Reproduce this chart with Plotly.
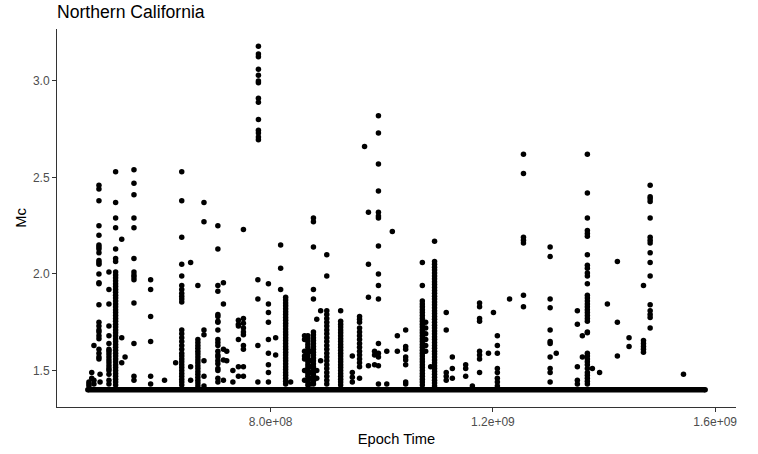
import plotly.graph_objects as go

# ---- data ----
# Event times are epoch seconds; each column lists the Mc values stacked at that time.
column_times = [
    4.73e8, 4.78e8, 4.82e8, 4.91e8, 4.93e8, 5.09e8, 5.21e8, 5.32e8, 5.38e8, 5.54e8,
    5.84e8, 6.09e8, 6.29e8, 6.40e8, 6.56e8, 6.69e8, 6.80e8, 7.05e8, 7.15e8, 7.21e8,
    7.32e8, 7.42e8, 7.51e8, 7.77e8, 7.78e8, 7.96e8, 8.09e8, 8.18e8, 8.27e8, 8.36e8,
    8.61e8, 8.67e8, 8.72e8, 8.77e8, 8.83e8, 8.90e8, 9.01e8, 9.26e8, 9.47e8, 9.60e8,
    9.69e8, 9.76e8, 9.87e8, 9.94e8, 10.09e8, 10.19e8, 10.28e8, 10.43e8, 10.73e8, 10.79e8,
    10.88e8, 10.95e8, 11.16e8, 11.27e8, 11.51e8, 11.63e8, 11.76e8, 11.92e8, 12.01e8, 12.08e8,
    12.30e8, 12.55e8, 13.03e8, 13.14e8, 13.52e8, 13.61e8, 13.70e8, 13.79e8, 13.92e8, 14.06e8,
    14.24e8, 14.45e8, 14.71e8, 14.83e8, 15.43e8,
]

column_mc = [
    [1.44, 1.43, 1.42],
    [1.49, 1.46],
    [1.63, 1.45, 1.43],
    [2.46, 2.44, 2.38, 2.25, 2.20, 2.15, 2.14, 2.13, 2.11, 2.07, 2.06, 2.05, 2.00, 1.955, 1.95,
     1.84, 1.75, 1.73, 1.71, 1.70, 1.68, 1.665, 1.61, 1.59, 1.57, 1.56],
    [1.48, 1.44],
    [2.01, 1.92, 1.845, 1.73, 1.68, 1.64, 1.61, 1.60, 1.585, 1.57, 1.555, 1.54, 1.525, 1.51,
     1.50, 1.48, 1.45, 1.43],
    [2.53, 2.37, 2.29, 2.24, 2.13, 2.08, 2.065, 2.01, 1.995, 1.98, 1.965, 1.95, 1.935, 1.92,
     1.905, 1.89, 1.875, 1.86, 1.845, 1.83, 1.815, 1.80, 1.785, 1.77, 1.755, 1.74, 1.725, 1.71,
     1.695, 1.68, 1.665, 1.65, 1.635, 1.62, 1.605, 1.59, 1.575, 1.56, 1.545, 1.53, 1.515, 1.50,
     1.485, 1.47, 1.455, 1.44, 1.425],
    [2.18, 1.67, 1.54],
    [1.57],
    [2.54, 2.47, 2.41, 2.29, 2.24, 2.08, 2.01, 1.995, 1.985, 1.97, 1.85, 1.64, 1.47, 1.45],
    [1.97, 1.92, 1.78, 1.65, 1.47, 1.43],
    [1.45],
    [1.54],
    [2.53, 2.38, 2.19, 2.05, 1.99, 1.94, 1.92, 1.90, 1.885, 1.87, 1.855, 1.71, 1.69, 1.67, 1.65,
     1.63, 1.61, 1.59, 1.575, 1.56, 1.545, 1.53, 1.515, 1.50, 1.485, 1.47, 1.455, 1.44, 1.425],
    [2.06, 1.52, 1.45],
    [1.94, 1.66, 1.645, 1.63, 1.615, 1.60, 1.585, 1.57, 1.555, 1.54, 1.525, 1.51, 1.495, 1.48,
     1.465, 1.45, 1.435, 1.42],
    [2.37, 2.27, 1.71, 1.685, 1.55, 1.47, 1.42],
    [2.25, 2.13, 1.94, 1.91, 1.79, 1.78, 1.755, 1.75, 1.71, 1.66, 1.645, 1.63, 1.60, 1.58, 1.57,
     1.55, 1.535, 1.51, 1.50, 1.46, 1.44],
    [1.955, 1.845, 1.61, 1.555, 1.45],
    [1.60, 1.55],
    [1.50, 1.44],
    [1.76, 1.74, 1.73, 1.66, 1.52, 1.47],
    [2.23, 1.77, 1.745, 1.72, 1.70, 1.685, 1.63, 1.61, 1.52, 1.47],
    [1.97, 1.87, 1.63, 1.44],
    [3.18, 3.14, 3.125, 3.06, 3.03, 3.00, 2.99, 2.91, 2.89, 2.80, 2.745, 2.73, 2.71, 2.695],
    [1.95, 1.845, 1.80, 1.75, 1.66, 1.59, 1.53, 1.49, 1.44],
    [1.67, 1.58],
    [2.15, 2.03, 1.92],
    [1.88, 1.865, 1.85, 1.835, 1.82, 1.805, 1.79, 1.775, 1.76, 1.745, 1.73, 1.715, 1.70, 1.685,
     1.67, 1.655, 1.64, 1.625, 1.61, 1.595, 1.58, 1.565, 1.55, 1.535, 1.52, 1.505, 1.49, 1.475,
     1.46, 1.445, 1.43],
    [1.44],
    [1.68, 1.66, 1.60, 1.575, 1.56, 1.50, 1.45],
    [1.68, 1.665, 1.65, 1.635, 1.62, 1.605, 1.59, 1.575, 1.56, 1.545, 1.53, 1.515, 1.50, 1.485,
     1.47, 1.455, 1.44, 1.425],
    [1.60, 1.55, 1.52, 1.49, 1.46, 1.43],
    [2.29, 2.27, 2.14, 1.92, 1.87, 1.70, 1.685, 1.67, 1.655, 1.64, 1.625, 1.61, 1.595, 1.58,
     1.565, 1.55, 1.535, 1.52, 1.505, 1.49, 1.475, 1.46, 1.445, 1.43],
    [1.765, 1.50, 1.46],
    [1.81, 1.55],
    [2.10, 1.99, 1.81, 1.79, 1.77, 1.75, 1.73, 1.71, 1.69, 1.67, 1.65, 1.63, 1.61, 1.59, 1.57,
     1.55, 1.53, 1.51, 1.49, 1.47, 1.45, 1.43],
    [1.81, 1.755, 1.74, 1.725, 1.71, 1.695, 1.68, 1.665, 1.65, 1.635, 1.62, 1.605, 1.59, 1.575,
     1.56, 1.545, 1.53, 1.515, 1.50, 1.485, 1.47, 1.455, 1.44, 1.425],
    [1.575, 1.49, 1.465, 1.44],
    [1.78, 1.765, 1.75, 1.72, 1.70, 1.68, 1.66, 1.64, 1.62, 1.60, 1.58, 1.56, 1.54, 1.52, 1.46],
    [2.66],
    [2.32, 2.05, 1.88, 1.525],
    [1.60, 1.58, 1.53],
    [2.82, 2.73, 2.57, 2.43, 2.32, 2.30, 2.29, 2.145, 2.00, 1.94, 1.87, 1.64, 1.59, 1.57, 1.525,
     1.43],
    [1.60, 1.43],
    [2.22],
    [1.68, 1.60],
    [1.71, 1.625, 1.61, 1.57, 1.555, 1.53, 1.44, 1.43],
    [2.06, 1.94, 1.86, 1.845, 1.83, 1.815, 1.80, 1.785, 1.77, 1.755, 1.74, 1.725, 1.71, 1.695,
     1.68, 1.665, 1.65, 1.635, 1.62, 1.605, 1.59, 1.575, 1.56, 1.545, 1.53, 1.515, 1.50, 1.485,
     1.47, 1.455, 1.44, 1.425],
    [1.75, 1.72, 1.69, 1.66, 1.63, 1.60],
    [1.52],
    [2.17, 2.065, 2.05, 2.035, 2.02, 2.005, 1.99, 1.975, 1.96, 1.945, 1.93, 1.915, 1.90, 1.885,
     1.87, 1.855, 1.84, 1.825, 1.81, 1.795, 1.78, 1.765, 1.75, 1.735, 1.72, 1.705, 1.69, 1.675,
     1.66, 1.645, 1.63, 1.615, 1.60, 1.585, 1.57, 1.555, 1.54, 1.525, 1.51, 1.495, 1.48, 1.465,
     1.45, 1.435, 1.42],
    [1.80, 1.71, 1.49, 1.47, 1.45],
    [1.57, 1.51, 1.46],
    [1.53, 1.51, 1.47],
    [1.42],
    [1.85, 1.83, 1.77, 1.755, 1.60, 1.58, 1.56, 1.49],
    [1.59],
    [1.80],
    [1.68, 1.63, 1.59, 1.51, 1.49, 1.46, 1.44, 1.42],
    [1.87],
    [2.62, 2.52, 2.19, 2.175, 2.16, 1.89, 1.83],
    [2.14, 2.09, 1.87, 1.825, 1.71, 1.65, 1.64, 1.57, 1.51, 1.49, 1.44],
    [1.59],
    [1.81, 1.74, 1.52, 1.45, 1.43],
    [1.68, 1.57],
    [2.62, 2.42, 2.29, 2.225, 2.21, 2.195, 2.10, 2.045, 2.03, 2.005, 1.99, 1.95, 1.89, 1.875,
     1.86, 1.845, 1.83, 1.815, 1.80, 1.785, 1.77, 1.755, 1.70, 1.695, 1.59, 1.575, 1.56, 1.545,
     1.53, 1.51, 1.49, 1.475, 1.46, 1.445, 1.43],
    [1.51],
    [1.49],
    [1.845],
    [2.065, 1.75, 1.575],
    [1.67, 1.625],
    [1.94, 1.655, 1.64, 1.625, 1.61, 1.595],
    [2.46, 2.40, 2.39, 2.375, 2.29, 2.19, 2.175, 2.16, 2.11, 2.06, 1.99, 1.84, 1.81, 1.79,
     1.775, 1.72],
    [1.48],
]

# Dense floor of events at the catalogue minimum Mc (solid band in the picture)
floor_mc = 1.4
floor_start = 4.71e8
floor_end = 15.82e8

x_tick_vals = [8.0e8, 1.2e9, 1.6e9]
x_tick_text = ["8.0e+08", "1.2e+09", "1.6e+09"]
y_tick_vals = [1.5, 2.0, 2.5, 3.0]
y_tick_text = ["1.5", "2.0", "2.5", "3.0"]

# ---- build ----
xs, ys = [], []
for t, mcs in zip(column_times, column_mc):
    for m in mcs:
        xs.append(t)
        ys.append(m)

FONT = "Liberation Sans, Arial, sans-serif"

fig = go.Figure()
fig.add_trace(go.Scatter(
    x=[floor_start, floor_end], y=[floor_mc, floor_mc],
    mode="lines+markers",
    line=dict(color="black", width=5.5),
    marker=dict(color="black", size=5.5),
    hoverinfo="skip", showlegend=False,
))
fig.add_trace(go.Scatter(
    x=xs, y=ys, mode="markers",
    marker=dict(color="black", size=5.5, line=dict(width=0)),
    showlegend=False,
))

axis_common = dict(
    showgrid=False, zeroline=False, showline=True, linecolor="#333333", linewidth=1,
    ticks="outside", ticklen=4, tickcolor="#333333", tickwidth=1, automargin=False,
    tickfont=dict(family=FONT, size=12, color="#4D4D4D"),
    title_font=dict(family=FONT, size=14.7, color="black"),
)

fig.update_layout(
    width=758, height=454,
    margin=dict(l=57, r=22, t=29, b=47),
    plot_bgcolor="white", paper_bgcolor="white",
    title=dict(
        text="Northern California",
        font=dict(family=FONT, size=17.6, color="black"),
        x=57 / 758, xref="container", xanchor="left",
        y=1 - 12 / 454, yref="container", yanchor="middle",
    ),
    xaxis=dict(
        range=[4.155e8, 1.6375e9], tickvals=x_tick_vals, ticktext=x_tick_text,
        title=dict(text="Epoch Time", standoff=5), **axis_common,
    ),
    yaxis=dict(
        range=[1.311, 3.269], tickvals=y_tick_vals, ticktext=y_tick_text,
        title=dict(text="Mc", standoff=2), **axis_common,
    ),
)

fig.write_html(
    "out.html",
    config={"displayModeBar": False},
    post_script="document.body.style.margin='0';document.body.style.overflow='hidden';",
)
